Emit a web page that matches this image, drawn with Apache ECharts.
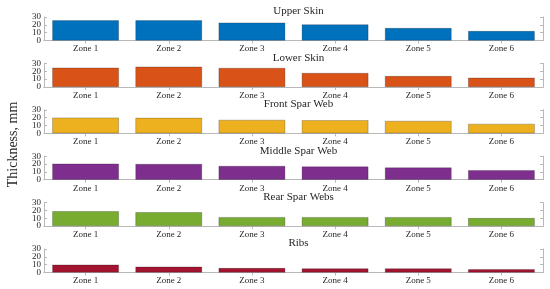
<!DOCTYPE html>
<html>
<head>
<meta charset="utf-8">
<script src="https://cdn.jsdelivr.net/npm/echarts@6/dist/echarts.min.js"></script>
<style>
html,body{margin:0;padding:0;background:#fff;}
#c{width:550px;height:289px;}
</style>
</head>
<body>
<div id="c"></div>
<script>
const categories = ['Zone 1', 'Zone 2', 'Zone 3', 'Zone 4', 'Zone 5', 'Zone 6'];
const panelTitles = ['Upper Skin', 'Lower Skin', 'Front Spar Web', 'Middle Spar Web', 'Rear Spar Webs', 'Ribs'];
const upperSkin = [25.7, 25.7, 22.8, 20.5, 15.8, 12.0];
const lowerSkin = [24.5, 25.8, 24.2, 17.7, 13.8, 11.7];
const frontSparWeb = [20.0, 19.7, 17.1, 16.7, 15.8, 12.0];
const middleSparWeb = [20.5, 20.0, 17.5, 16.8, 15.5, 12.1];
const rearSparWebs = [19.0, 17.7, 11.4, 11.4, 11.4, 10.2];
const ribs = [10.0, 7.4, 5.6, 5.2, 5.2, 4.0];
const yTicks = [0, 10, 20, 30];
const yLabel = 'Thickness, mm';
const seriesValues = [upperSkin, lowerSkin, frontSparWeb, middleSparWeb, rearSparWebs, ribs];
const colors = ['#0072BD', '#D95319', '#EDB120', '#7E2F8E', '#77AC30', '#A2142F'];

const chart = echarts.init(document.getElementById('c'), null, {renderer: 'canvas'});
const font = 'Liberation Serif';
const axisCol = '#b8b8b8';
const textCol = '#262626';
const gLeft = 44, gRight = 7, gH = 23.5;
const tops = [17, 63.4, 109.8, 156.2, 202.6, 249];
const yMin = yTicks[0], yMax = yTicks[yTicks.length - 1], yStep = yTicks[1] - yTicks[0];

// Split tick labels into two alternating sets so none are auto-hidden for overlap
const labelSetA = yTicks.filter((v, k) => k % 2 === 0);
const labelSetB = yTicks.filter((v, k) => k % 2 === 1);

const grid = [], xAxis = [], yAxis = [], series = [], title = [];
seriesValues.forEach((vals, i) => {
  grid.push({left: gLeft, right: gRight, top: tops[i], height: gH, containLabel: false});
  xAxis.push({
    type: 'category', gridIndex: i, data: categories, position: 'bottom',
    axisLine: {show: true, lineStyle: {color: axisCol, width: 1}},
    axisTick: {show: true, inside: true, alignWithLabel: true, length: 3, lineStyle: {color: axisCol}},
    axisLabel: {color: textCol, fontFamily: font, fontSize: 9, margin: 4},
    splitLine: {show: false}
  });
  xAxis.push({
    type: 'category', gridIndex: i, data: categories, position: 'top',
    axisLine: {show: true, lineStyle: {color: axisCol, width: 1}},
    axisTick: {show: true, inside: true, alignWithLabel: true, length: 3, lineStyle: {color: axisCol}},
    axisLabel: {show: false}, splitLine: {show: false}
  });
  const lblBase = {color: textCol, fontFamily: font, fontSize: 9, margin: 3,
    showMinLabel: true, showMaxLabel: true};
  yAxis.push({
    type: 'value', gridIndex: i, min: yMin, max: yMax, interval: yStep, position: 'left',
    axisLine: {show: true, lineStyle: {color: axisCol, width: 1}},
    axisTick: {show: true, inside: true, length: 3, lineStyle: {color: axisCol}},
    axisLabel: Object.assign({}, lblBase, {formatter: v => labelSetA.includes(v) ? String(v) : ''}),
    splitLine: {show: false}
  });
  yAxis.push({
    type: 'value', gridIndex: i, min: yMin, max: yMax, interval: yStep, position: 'left',
    axisLine: {show: false}, axisTick: {show: false},
    axisLabel: Object.assign({}, lblBase, {formatter: v => labelSetB.includes(v) ? String(v) : ''}),
    splitLine: {show: false}
  });
  yAxis.push({
    type: 'value', gridIndex: i, min: yMin, max: yMax, interval: yStep, position: 'right',
    axisLine: {show: true, lineStyle: {color: axisCol, width: 1}},
    axisTick: {show: true, inside: true, length: 3, lineStyle: {color: axisCol}},
    axisLabel: {show: false}, splitLine: {show: false}
  });
  series.push({
    type: 'bar', xAxisIndex: 2 * i, yAxisIndex: 3 * i, data: vals,
    barCategoryGap: '20%',
    itemStyle: {color: colors[i], borderColor: 'rgba(0,0,0,0.45)', borderWidth: 0.5},
    silent: true, animation: false
  });
  title.push({
    text: panelTitles[i], left: gLeft + (550 - gLeft - gRight) / 2, textAlign: 'center',
    top: tops[i] - 16,
    textStyle: {fontFamily: font, fontSize: 11, fontWeight: 'normal', color: textCol}
  });
});

chart.setOption({
  animation: false,
  backgroundColor: '#fff',
  title: title,
  grid: grid,
  xAxis: xAxis,
  yAxis: yAxis,
  series: series,
  graphic: [{
    type: 'text', left: 6, top: 'middle', rotation: Math.PI / 2,
    style: {text: yLabel, fontFamily: font, fontSize: 14, fill: textCol}
  }]
});
</script>
</body>
</html>
